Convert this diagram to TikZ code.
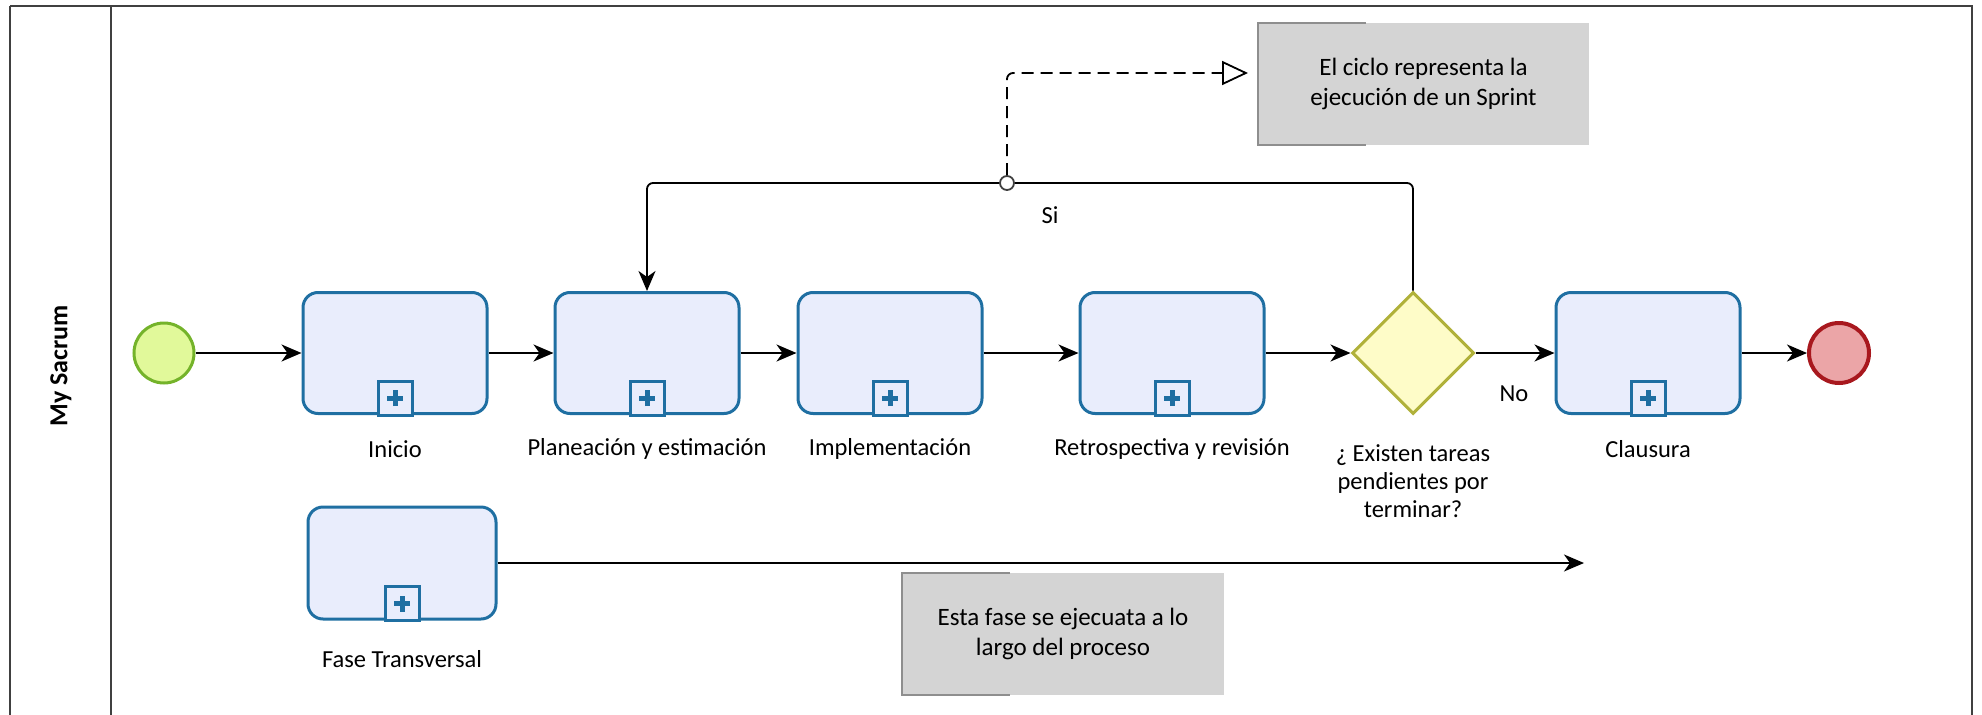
\documentclass[tikz,border=0pt]{standalone}
\usepackage{fontspec}
\setmainfont{Carlito}
\usetikzlibrary{arrows.meta,shapes.geometric}
\definecolor{taskfill}{HTML}{E9EDFC}
\definecolor{taskline}{HTML}{1F6FA2}
\definecolor{startfill}{HTML}{E1F99A}
\definecolor{startline}{HTML}{74B32A}
\definecolor{endfill}{HTML}{EBA5A7}
\definecolor{endline}{HTML}{A8181E}
\definecolor{gwfill}{HTML}{FEFCC8}
\definecolor{gwline}{HTML}{B0B13A}
\definecolor{notefill}{HTML}{D4D4D4}
\definecolor{notebracket}{HTML}{8E8E8E}
\definecolor{poolline}{HTML}{404040}
\tikzset{
  task/.style={draw=taskline, fill=taskfill, line width=3pt, rounded corners=15pt,
    minimum width=184pt, minimum height=121pt, inner sep=0pt},
  tasklabel/.style={font=\fontsize{24.5}{28}\selectfont, inner sep=0pt, align=center},
  flow/.style={draw=black, line width=1.8pt, -{Stealth[length=20pt,width=17pt,inset=6pt]}},
  note/.style={fill=notefill, draw=none, inner sep=0pt, align=center,
    font=\fontsize{25}{30}\selectfont},
}
% collapsed sub-process marker at the bottom of a task
\newcommand{\collapsed}[1]{%
  \node[draw=taskline, fill=taskfill, line width=3pt, minimum size=34pt, inner sep=0pt,
        anchor=south] (#1-mk) at ([yshift=-1.5pt]#1.south) {};
  \draw[taskline, line width=5pt] ([yshift=-8pt]#1-mk.center) -- ([yshift=8pt]#1-mk.center);
  \draw[taskline, line width=5pt] ([xshift=-8pt]#1-mk.center) -- ([xshift=8pt]#1-mk.center);
}
% grey text annotation with its bracket on the left
\newcommand{\bracket}[1]{%
  \draw[notebracket, line width=2pt]
    ([xshift=108pt]#1.north west) -- (#1.north west) -- (#1.south west) -- ([xshift=108pt]#1.south west);
}
\begin{document}
\begin{tikzpicture}[x=1pt,y=-1pt]
\useasboundingbox (0,0) rectangle (1982,715);

% pool and its header
\draw[poolline, line width=2.2pt] (10,6) -- (1972,6) -- (1972,740);
\draw[poolline, line width=2.2pt] (10,740) -- (10,6);
\draw[poolline, line width=2.2pt] (111,6) -- (111,740);
\node[rotate=90, font=\bfseries\fontsize{26}{30}\selectfont] (lane) at (61,366) {My Sacrum};

% events
\node[circle, draw=startline, fill=startfill, line width=3pt, minimum size=60pt, inner sep=0pt] (start) at (164,353) {};
\node[circle, draw=endline, fill=endfill, line width=4pt, minimum size=60pt, inner sep=0pt] (end) at (1839,353) {};

% tasks
\node[task] (inicio) at (395,353) {};
\node[task] (plan) at (647,353) {};
\node[task] (impl) at (890,353) {};
\node[task] (retro) at (1172,353) {};
\node[task] (claus) at (1648,353) {};
\node[task, minimum width=188pt, minimum height=112pt] (fase) at (402,563) {};
\collapsed{inicio}
\collapsed{plan}
\collapsed{impl}
\collapsed{retro}
\collapsed{claus}
\collapsed{fase}

% gateway
\node[diamond, draw=gwline, fill=gwfill, line width=3pt, minimum width=122pt, minimum height=122pt, inner sep=0pt, aspect=1] (gw) at (1413,353) {};

% labels
\node[tasklabel] (l-inicio) at (395,449) {Inicio};
\node[tasklabel] (l-plan) at (647,449) {Planeación y estimación};
\node[tasklabel] (l-impl) at (890,449) {Implementación};
\node[tasklabel] (l-retro) at (1172,449) {Retrospectiva y revisión};
\node[tasklabel] (l-claus) at (1648,449) {Clausura};
\node[tasklabel] (l-gw) at (1413,481) {¿ Existen tareas\\pendientes por\\terminar?};
\node[tasklabel] (l-fase) at (402,659) {Fase Transversal};

% sequence flows
\draw[flow] (start) -- (inicio);
\draw[flow] (inicio) -- (plan);
\draw[flow] (plan) -- (impl);
\draw[flow] (impl) -- (retro);
\draw[flow] (retro) -- (gw.west);
\draw[flow] (gw.east) -- (claus);
\draw[flow] (claus) -- (end);
\node[tasklabel] (no) at (1514,394) {No};

% loop back for the next sprint
\coordinate (ly) at (0,183);
\draw[flow, rounded corners=6pt] (gw.north) -- (gw.north |- ly) -- (plan.north |- ly) -- (plan.north);
\node[tasklabel] (si) at (1050,215) {Si};

% annotations
\node[note, minimum width=331pt, minimum height=122pt] (note1) at (1423.5,84)
  {El ciclo representa la\\ejecución de un Sprint};
\bracket{note1}
\node[note, minimum width=322pt, minimum height=122pt] (note2) at (1063,634)
  {Esta fase se ejecuata a lo\\largo del proceso};
\bracket{note2}

% association to the sprint note
\node[circle, draw=poolline, fill=white, line width=1.8pt, minimum size=14pt, inner sep=0pt] (assoc) at (1007,183) {};
\coordinate (n1in) at (1248,73);
\draw[line width=1.8pt, dash pattern=on 12pt off 7pt, rounded corners=6pt,
  -{Triangle[open, length=26pt, width=24pt, line width=1.8pt]}]
  (assoc.north) |- (n1in);

% transversal phase runs alongside the whole process
\coordinate (fend) at (1584,563);
\draw[flow] (fase) -- (fend);
\end{tikzpicture}
\end{document}
